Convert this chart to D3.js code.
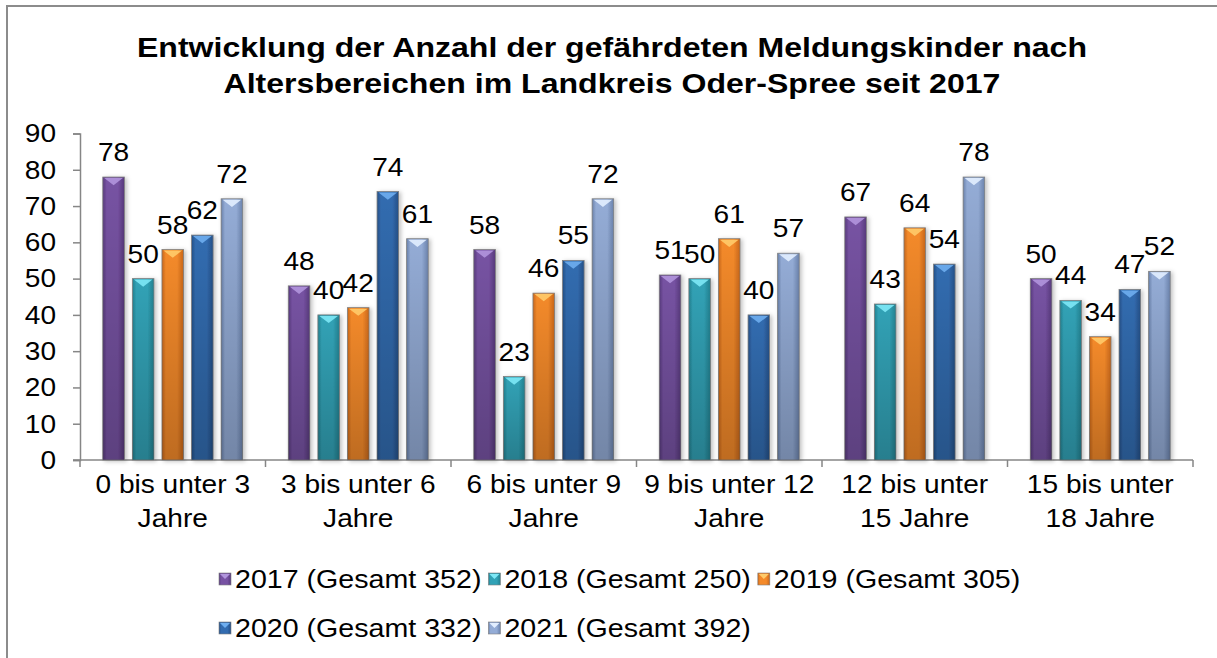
<!DOCTYPE html>
<html>
<head>
<meta charset="utf-8">
<script src="https://cdn.jsdelivr.net/npm/d3@7"></script>
<style>
  body { margin: 0; background: #fff; }
  text { font-family: "Liberation Sans", Arial, sans-serif; fill: #000; }
</style>
</head>
<body>
<div id="root"></div>
<script>
// Data
const categories = [
  ["0 bis unter 3", "Jahre"],
  ["3 bis unter 6", "Jahre"],
  ["6 bis unter 9", "Jahre"],
  ["9 bis unter 12", "Jahre"],
  ["12 bis unter", "15 Jahre"],
  ["15 bis unter", "18 Jahre"],
];
const seriesNames = [
  "2017 (Gesamt 352)",
  "2018 (Gesamt 250)",
  "2019 (Gesamt 305)",
  "2020 (Gesamt 332)",
  "2021 (Gesamt 392)",
];
const values2017 = [78, 48, 58, 51, 67, 50];
const values2018 = [50, 40, 23, 50, 43, 44];
const values2019 = [58, 42, 46, 61, 64, 34];
const values2020 = [62, 74, 55, 40, 54, 47];
const values2021 = [72, 61, 72, 57, 78, 52];
const yTicks = [0, 10, 20, 30, 40, 50, 60, 70, 80, 90];
const titleLines = [
  "Entwicklung der Anzahl der gefährdeten Meldungskinder nach",
  "Altersbereichen im Landkreis Oder-Spree seit 2017",
];

const allValues = [values2017, values2018, values2019, values2020, values2021];

// Colours: [edge, middle, top bevel]
const palette = [
  ["#573a7c", "#7752a3", "#b195dd"],
  ["#23808f", "#31a2b6", "#7de8f6"],
  ["#c8661a", "#f48a2a", "#ffcb6a"],
  ["#244f87", "#336cb0", "#6eaef0"],
  ["#6a82ac", "#94acd6", "#e2eeff"],
];

// The reference text is a bit wider than Liberation Sans at the same height
function stretch(sel, k) {
  sel.each(function () {
    const len = this.getComputedTextLength();
    d3.select(this)
      .attr("textLength", len * k)
      .attr("lengthAdjust", "spacingAndGlyphs");
  });
}

function drawChart() {
  const width = 1217;
  const height = 658;
  const plot = { left: 80, right: 1193, top: 133.5, bottom: 460 };
  const textStretch = 1.08;

  const svg = d3
    .select("#root")
    .append("svg")
    .attr("width", width)
    .attr("height", height);

  const defs = svg.append("defs");

  palette.forEach((c, i) => {
    const g = defs
      .append("linearGradient")
      .attr("id", "grad" + i)
      .attr("x1", 0)
      .attr("x2", 1)
      .attr("y1", 0)
      .attr("y2", 0);
    g.append("stop").attr("offset", "0%").attr("stop-color", c[0]);
    g.append("stop").attr("offset", "18%").attr("stop-color", c[1]);
    g.append("stop").attr("offset", "70%").attr("stop-color", c[1]);
    g.append("stop").attr("offset", "100%").attr("stop-color", c[0]);
  });

  const shade = defs
    .append("linearGradient")
    .attr("id", "shade")
    .attr("x1", 0)
    .attr("x2", 0)
    .attr("y1", 0)
    .attr("y2", 1);
  shade.append("stop").attr("offset", "0%").attr("stop-color", "#000").attr("stop-opacity", 0);
  shade.append("stop").attr("offset", "100%").attr("stop-color", "#000").attr("stop-opacity", 0.22);

  const shadow = defs
    .append("filter")
    .attr("id", "shadow")
    .attr("x", "-30%")
    .attr("y", "-10%")
    .attr("width", "170%")
    .attr("height", "130%");
  shadow
    .append("feDropShadow")
    .attr("dx", 2)
    .attr("dy", 1)
    .attr("stdDeviation", 2)
    .attr("flood-color", "#000")
    .attr("flood-opacity", 0.25);

  // Outer border
  svg
    .append("rect")
    .attr("x", 7)
    .attr("y", 6)
    .attr("width", width + 10)
    .attr("height", height + 10)
    .attr("fill", "none")
    .attr("stroke", "#8c8c8c")
    .attr("stroke-width", 2);

  // Title
  const title = svg
    .append("text")
    .attr("text-anchor", "middle")
    .style("font-size", "28px")
    .style("font-weight", "bold")
    .selectAll("tspan")
    .data(titleLines)
    .join("tspan")
    .attr("x", 612)
    .attr("y", (d, i) => 57 + i * 36)
    .text((d) => d);
  stretch(title, 1.145);

  // Scales
  const x0 = d3
    .scaleBand()
    .domain(d3.range(categories.length))
    .range([plot.left, plot.right])
    .padding(0);
  const x1 = d3
    .scaleBand()
    .domain(d3.range(seriesNames.length))
    .range([0, x0.bandwidth()])
    .paddingInner(0.27)
    .paddingOuter(0.77);
  const y = d3.scaleLinear().domain([0, 90]).range([plot.bottom, plot.top]);

  // Y axis
  const yAxis = svg
    .append("g")
    .attr("transform", `translate(${plot.left},0)`)
    .call(d3.axisLeft(y).tickValues(yTicks).tickSize(7).tickPadding(17));
  yAxis.select(".domain").attr("stroke", "#868686").attr("stroke-width", 1.5);
  yAxis.selectAll(".tick line").attr("stroke", "#868686").attr("stroke-width", 1.5);
  yAxis
    .selectAll(".tick text")
    .style("font-size", "26px")
    .style("font-family", "Liberation Sans, Arial, sans-serif")
    .attr("fill", "#000")
    .call(stretch, textStretch);

  // X axis (line + boundary ticks)
  const xAxis = svg.append("g");
  xAxis
    .append("line")
    .attr("x1", plot.left - 7)
    .attr("x2", plot.right)
    .attr("y1", plot.bottom)
    .attr("y2", plot.bottom)
    .attr("stroke", "#868686")
    .attr("stroke-width", 1.5);
  const boundaries = d3.range(categories.length).map((i) => x0(i)).concat([plot.right]);
  xAxis
    .selectAll(".xtick")
    .data(boundaries)
    .join("line")
    .attr("x1", (d) => d)
    .attr("x2", (d) => d)
    .attr("y1", plot.bottom)
    .attr("y2", plot.bottom + 7)
    .attr("stroke", "#868686")
    .attr("stroke-width", 1.5);

  xAxis
    .selectAll(".xlabel")
    .data(categories)
    .join("text")
    .attr("text-anchor", "middle")
    .style("font-size", "26px")
    .each(function (d, i) {
      d3.select(this)
        .selectAll("tspan")
        .data(d)
        .join("tspan")
        .attr("x", x0(i) + x0.bandwidth() / 2)
        .attr("y", (t, j) => 493 + j * 34)
        .text((t) => t)
        .call(stretch, textStretch);
    });

  // Bars
  const groups = svg
    .selectAll(".group")
    .data(categories)
    .join("g")
    .attr("transform", (d, i) => `translate(${x0(i)},0)`);

  groups.each(function (cat, ci) {
    const g = d3.select(this);
    allValues.forEach((vals, si) => {
      const v = vals[ci];
      const bx = x1(si);
      const bw = x1.bandwidth();
      const by = y(v);
      const bh = y(0) - by;
      const bar = g.append("g");
      bar
        .append("rect")
        .attr("x", bx)
        .attr("y", by)
        .attr("width", bw)
        .attr("height", bh)
        .attr("fill", `url(#grad${si})`)
        .attr("stroke", "#7f7f7f")
        .attr("stroke-width", 0.8)
        .attr("filter", "url(#shadow)");
      bar
        .append("rect")
        .attr("x", bx)
        .attr("y", by)
        .attr("width", bw)
        .attr("height", bh)
        .attr("fill", "url(#shade)");
      bar
        .append("path")
        .attr(
          "d",
          `M${bx + 1.5},${by + 1}L${bx + bw - 1.5},${by + 1}L${bx + bw / 2},${by + bw * 0.38}Z`
        )
        .attr("fill", palette[si][2])
        .attr("opacity", 0.9);
      g.append("text")
        .attr("x", bx + bw / 2)
        .attr("y", by - 16)
        .attr("text-anchor", "middle")
        .style("font-size", "26px")
        .text(v)
        .call(stretch, textStretch);
    });
  });

  // Legend
  const legendRows = [
    [0, 1, 2],
    [3, 4],
  ];
  legendRows.forEach((row, ri) => {
    let lx = 219;
    const ly = 579 + ri * 49;
    row.forEach((si) => {
      const item = svg.append("g").attr("transform", `translate(${lx},${ly})`);
      item
        .append("rect")
        .attr("x", 0)
        .attr("y", -6)
        .attr("width", 12)
        .attr("height", 12)
        .attr("fill", `url(#grad${si})`)
        .attr("stroke", "#7f7f7f")
        .attr("stroke-width", 0.6);
      item
        .append("path")
        .attr("d", "M1,-5L11,-5L6,0Z")
        .attr("fill", palette[si][2]);
      const t = item
        .append("text")
        .attr("x", 16)
        .attr("y", 9)
        .style("font-size", "26px")
        .text(seriesNames[si]);
      const len = t.node().getComputedTextLength() * 1.1;
      t.attr("textLength", len).attr("lengthAdjust", "spacingAndGlyphs");
      lx += 16 + len + 7;
    });
  });
}

drawChart();
</script>
</body>
</html>
